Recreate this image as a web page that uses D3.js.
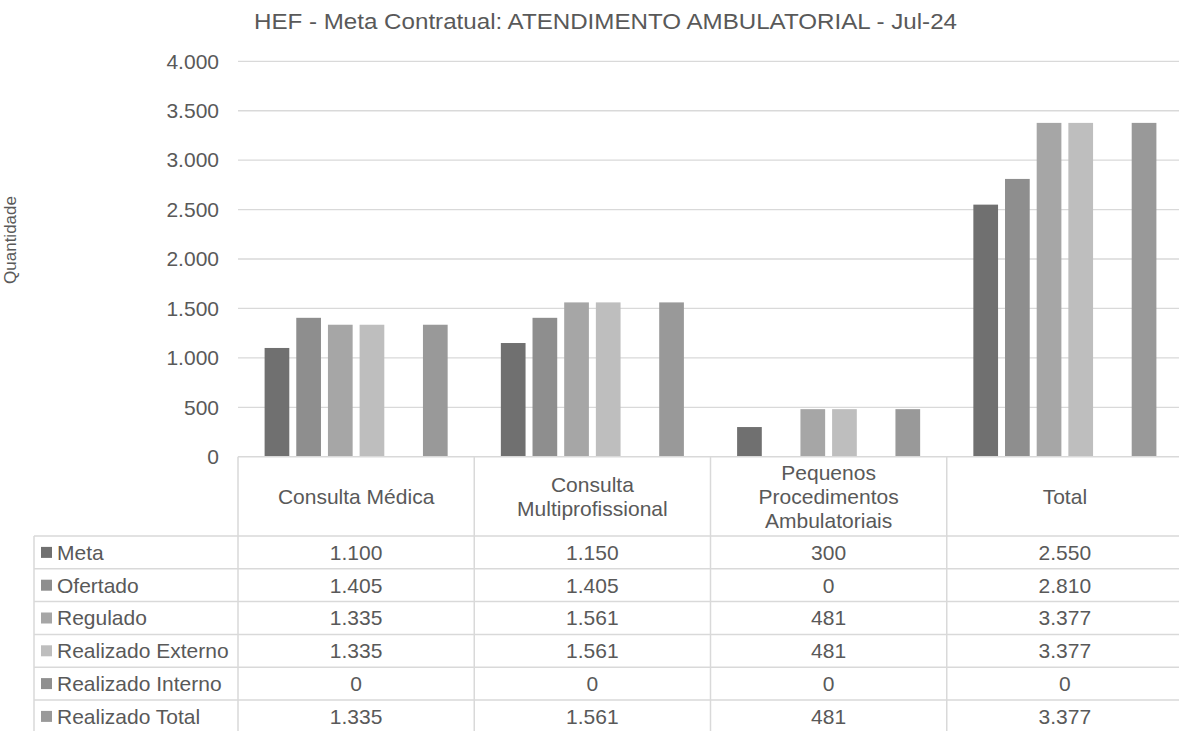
<!DOCTYPE html>
<html>
<head>
<meta charset="utf-8">
<script src="https://cdn.jsdelivr.net/npm/d3@7"></script>
<style>
  html, body { margin: 0; padding: 0; background: #fff; }
  svg { display: block; font-family: "Liberation Sans", Arial, sans-serif; }
</style>
</head>
<body>
<svg id="chart" width="1179" height="731"></svg>
<script>
// ---------- data ----------
const title = "HEF - Meta Contratual: ATENDIMENTO AMBULATORIAL - Jul-24";
const yAxisTitle = "Quantidade";
const categories = ["Consulta Médica", "Consulta Multiprofissional", "Pequenos Procedimentos Ambulatoriais", "Total"];
const categoryLines = [["Consulta Médica"], ["Consulta", "Multiprofissional"], ["Pequenos", "Procedimentos", "Ambulatoriais"], ["Total"]];
const seriesNames = ["Meta", "Ofertado", "Regulado", "Realizado Externo", "Realizado Interno", "Realizado Total"];
const meta = [1100, 1150, 300, 2550];
const ofertado = [1405, 1405, 0, 2810];
const regulado = [1335, 1561, 481, 3377];
const realizadoExterno = [1335, 1561, 481, 3377];
const realizadoInterno = [0, 0, 0, 0];
const realizadoTotal = [1335, 1561, 481, 3377];
const yTicks = [0, 500, 1000, 1500, 2000, 2500, 3000, 3500, 4000];
const seriesColors = ["#707070", "#8e8e8e", "#a6a6a6", "#bebebe", "#8f8f8f", "#999999"];

const seriesValues = [meta, ofertado, regulado, realizadoExterno, realizadoInterno, realizadoTotal];

// ---------- layout ----------
const W = 1179, H = 731;
const plotLeft = 238, plotRight = 1183;
const yBottom = 456.7, yTop = 61.3;
const headerBottom = 536;
const rowH = 32.8;
const tableLeft = 34;
const textColor = "#595959";
const lineColor = "#d9d9d9";
const fontSize = 21;

const locale = d3.formatLocale({ decimal: ",", thousands: ".", grouping: [3], currency: ["", ""] });
const fmt = locale.format(",.0f");

const svg = d3.select("#chart");

const x0 = d3.scaleBand().domain(categories).range([plotLeft, plotRight]).paddingInner(0).paddingOuter(0);
const groupPad = 26.6;
const x1 = d3.scaleBand().domain(seriesNames).range([groupPad, x0.bandwidth() - groupPad]).paddingInner(0.22).paddingOuter(0);
const y = d3.scaleLinear().domain([0, 4000]).range([yBottom, yTop]);

// title
svg.append("text")
  .attr("x", 254).attr("y", 29)
  .attr("font-size", fontSize + 1)
  .attr("fill", textColor)
  .attr("textLength", 703)
  .attr("lengthAdjust", "spacingAndGlyphs")
  .text(title);

// y axis title
svg.append("text")
  .attr("transform", `translate(16,240) rotate(-90)`)
  .attr("text-anchor", "middle")
  .attr("font-size", 17)
  .attr("fill", textColor)
  .text(yAxisTitle);

// gridlines
svg.append("g").selectAll("line").data(yTicks.filter(d => d > 0)).join("line")
  .attr("x1", plotLeft).attr("x2", W)
  .attr("y1", d => y(d)).attr("y2", d => y(d))
  .attr("stroke", lineColor).attr("stroke-width", 1.3);

// y axis labels
const yAxis = d3.axisLeft(y).tickValues(yTicks).tickFormat(fmt).tickSize(0).tickPadding(0);
const gy = svg.append("g").attr("transform", `translate(219,0)`).call(yAxis);
gy.select(".domain").remove();
gy.selectAll("text").attr("font-size", fontSize).attr("fill", textColor)
  .attr("font-family", "Liberation Sans, Arial, sans-serif");

// bars
const groups = svg.append("g").selectAll("g").data(categories).join("g")
  .attr("transform", d => `translate(${x0(d)},0)`);
groups.selectAll("rect")
  .data((c, ci) => seriesNames.map((s, si) => ({ s, si, v: seriesValues[si][ci] })))
  .join("rect")
  .attr("x", d => x1(d.s))
  .attr("width", x1.bandwidth())
  .attr("y", d => y(d.v))
  .attr("height", d => yBottom - y(d.v))
  .attr("fill", d => seriesColors[d.si]);

// table lines
const tl = svg.append("g").attr("stroke", lineColor).attr("stroke-width", 1.5);
tl.append("line").attr("x1", plotLeft).attr("x2", W).attr("y1", yBottom).attr("y2", yBottom);
const bounds = categories.map(c => x0(c)).concat([plotRight]);
bounds.forEach(bx => {
  tl.append("line").attr("x1", bx).attr("x2", bx).attr("y1", yBottom).attr("y2", H);
});
tl.append("line").attr("x1", tableLeft).attr("x2", tableLeft).attr("y1", headerBottom).attr("y2", H);
for (let i = 0; i <= seriesNames.length; i++) {
  const ry = headerBottom + i * rowH;
  tl.append("line").attr("x1", tableLeft).attr("x2", W).attr("y1", ry).attr("y2", ry);
}

// header category text
const headerMid = (yBottom + headerBottom) / 2;
categories.forEach((c, ci) => {
  const lines = categoryLines[ci];
  const lh = 24;
  const t = svg.append("text")
    .attr("text-anchor", "middle")
    .attr("font-size", fontSize)
    .attr("fill", textColor);
  lines.forEach((ln, li) => {
    t.append("tspan")
      .attr("x", x0(c) + x0.bandwidth() / 2)
      .attr("y", headerMid + (li - (lines.length - 1) / 2) * lh)
      .attr("dy", "0.35em")
      .text(ln);
  });
});

// rows
seriesNames.forEach((s, si) => {
  const cy = headerBottom + si * rowH + rowH / 2;
  svg.append("rect")
    .attr("x", 41).attr("y", cy - 5.5).attr("width", 11).attr("height", 11)
    .attr("fill", seriesColors[si]);
  svg.append("text")
    .attr("x", 57).attr("y", cy).attr("dy", "0.35em")
    .attr("font-size", fontSize).attr("fill", textColor)
    .text(s);
  categories.forEach((c, ci) => {
    svg.append("text")
      .attr("x", x0(c) + x0.bandwidth() / 2).attr("y", cy).attr("dy", "0.35em")
      .attr("text-anchor", "middle")
      .attr("font-size", fontSize).attr("fill", textColor)
      .text(fmt(seriesValues[si][ci]));
  });
});
</script>
</body>
</html>
